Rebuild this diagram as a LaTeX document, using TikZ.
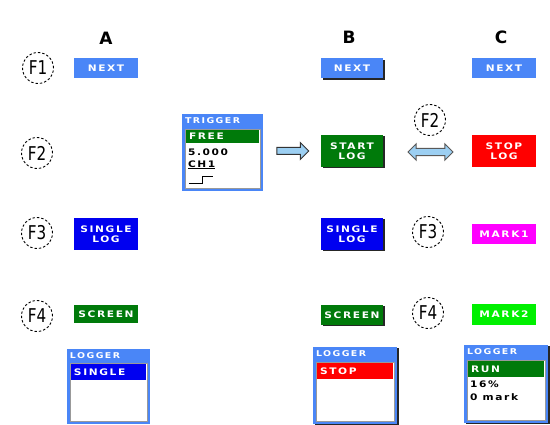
\documentclass[tikz,border=0pt]{standalone}
\usepackage{fontspec}
\setmainfont{DejaVu Sans}
\newfontfamily\pixfont[LetterSpace=18, FakeStretch=1.18]{DejaVu Sans}
\newfontfamily\keyfont[FakeStretch=0.8]{DejaVu Sans}
\usetikzlibrary{shapes.arrows,shadows}
\definecolor{keyblue}{HTML}{4A86F7}
\definecolor{logblue}{HTML}{0000F0}
\definecolor{loggreen}{HTML}{007A0A}
\definecolor{markgreen}{HTML}{00F000}
\definecolor{markpink}{HTML}{FF00FF}
\definecolor{stopred}{HTML}{FF0000}
\definecolor{arrowblue}{HTML}{9CCFF2}

\begin{document}
\begin{tikzpicture}[x=1pt, y=-1pt,
  font=\pixfont\bfseries\fontsize{9}{10.5}\selectfont,
  softkey/.style={text=white, inner sep=0pt, align=center, minimum width=64pt, minimum height=20pt},
  key/.style={softkey, fill=keyblue},
  tall/.style={minimum height=32pt},
  shad/.style={drop shadow={shadow xshift=1.6pt, shadow yshift=-1.4pt, fill=black, opacity=.85}},
  fkey/.style={circle, draw, line width=0.9pt, dash pattern=on 2.4pt off 2pt, minimum size=31pt, inner sep=0pt, font=\keyfont\fontsize{19}{20}\selectfont},
  head/.style={font=\bfseries\fontsize{17}{18}\selectfont},
  frame/.style={fill=keyblue, inner sep=0pt},
  pane/.style={fill=white, draw=black!40, inner sep=0pt},
  bar/.style={text=white, inner xsep=3pt, inner ysep=0pt, align=left, minimum height=16pt},
  title/.style={text=white, anchor=north west, inner sep=0pt, font=\pixfont\bfseries\fontsize{8}{9}\selectfont},
  readout/.style={anchor=west, inner sep=0pt},
  fat/.style={draw=black!80, line width=1pt, fill=arrowblue}]
  \useasboundingbox (0,0) rectangle (550,425);
  % column heads
  \node[head] (colA) at (106,38) {A};
  \node[head] (colB) at (349,37) {B};
  \node[head] (colC) at (501,37) {C};
  % function keys
  \node[fkey] (f1) at (38,68) {F1};
  \node[fkey] (f2) at (37,153) {F2};
  \node[fkey] (f3) at (37,233) {F3};
  \node[fkey] (f4) at (37,316) {F4};
  \node[fkey] (f2c) at (430,120) {F2};
  \node[fkey] (f3c) at (428,232) {F3};
  \node[fkey] (f4c) at (428,313) {F4};
  % screen A
  \node[key] (nextA) at (106,68.5) {NEXT};
  \node[softkey, tall, fill=logblue] (singleA) at (106,234) {SINGLE\\LOG};
  \node[softkey, fill=loggreen, minimum height=18pt] (screenA) at (106,314) {SCREEN};
  % screen B
  \node[key, shad, minimum width=62pt] (nextB) at (352,68.5) {NEXT};
  \node[softkey, tall, shad, fill=loggreen, minimum width=62pt] (start) at (352,151) {START\\LOG};
  \node[softkey, tall, shad, fill=logblue, minimum width=62pt] (singleB) at (352,234) {SINGLE\\LOG};
  \node[softkey, shad, fill=loggreen, minimum width=62pt] (screenB) at (352,315) {SCREEN};
  % screen C
  \node[key] (nextC) at (504,68.5) {NEXT};
  \node[softkey, tall, fill=stopred] (stop) at (504,151) {STOP\\LOG};
  \node[softkey, fill=markpink] (mark1) at (504,234) {MARK1};
  \node[softkey, fill=markgreen, minimum height=21pt] (mark2) at (504,314.5) {MARK2};
  % trigger window
  \node[frame, minimum width=81pt, minimum height=77pt] (trig) at (222.5,152.5) {};
  \node[title] (trigT) at ([xshift=3pt, yshift=-4pt]trig.north west) {TRIGGER};
  \node[pane, minimum width=75pt, minimum height=59pt] (trigP) at (222.5,158.5) {};
  \node[bar, fill=loggreen, text width=67pt, minimum height=13pt] (free) at (222.5,136.5) {FREE};
  \node[readout] (level) at ([xshift=3pt, yshift=-23pt]trigP.north west) {5.000};
  \node[readout] (chan) at ([xshift=3pt, yshift=-36pt]trigP.north west) {\underline{CH1}};
  \draw[thick] ([xshift=4pt, yshift=5pt]trigP.south west) -- ++(14,0) -- ++(0,-7) -- ++(10,0);
  % arrows
  \node[single arrow, fat, minimum height=32pt, minimum width=16pt,
    single arrow head extend=5pt, inner sep=3pt] (go) at (291,151) {};
  \node[double arrow, fat, draw=black!65, minimum height=45pt, minimum width=16pt,
    double arrow head extend=4.5pt, inner sep=3.2pt] (swap) at (430.5,152) {};
  % logger windows
  \node[frame, minimum width=83pt, minimum height=75pt] (logA) at (108.5,386.5) {};
  \node[title] (logAT) at ([xshift=3pt, yshift=-4pt]logA.north west) {LOGGER};
  \node[pane, minimum width=77pt, minimum height=58pt] (logAP) at (108.5,392) {};
  \node[bar, fill=logblue, text width=69pt] (logAbar) at (108.5,372.5) {SINGLE};
  \node[frame, shad, minimum width=84pt, minimum height=77pt] (logB) at (355,385.5) {};
  \node[title] (logBT) at ([xshift=3pt, yshift=-4pt]logB.north west) {LOGGER};
  \node[pane, minimum width=78pt, minimum height=59pt] (logBP) at (355,391.5) {};
  \node[bar, fill=stopred, text width=70pt] (logBbar) at (355,371.5) {STOP};
  \node[frame, shad, minimum width=84pt, minimum height=78pt] (logC) at (506,384) {};
  \node[title] (logCT) at ([xshift=3pt, yshift=-4pt]logC.north west) {LOGGER};
  \node[pane, minimum width=78pt, minimum height=60pt] (logCP) at (506,390) {};
  \node[bar, fill=loggreen, text width=70pt] (logCbar) at (506,369.5) {RUN};
  \node[readout] (fill) at ([xshift=3pt, yshift=-24pt]logCP.north west) {16\%};
  \node[readout] (marks) at ([xshift=3pt, yshift=-37pt]logCP.north west) {0 mark};
\end{tikzpicture}
\end{document}
